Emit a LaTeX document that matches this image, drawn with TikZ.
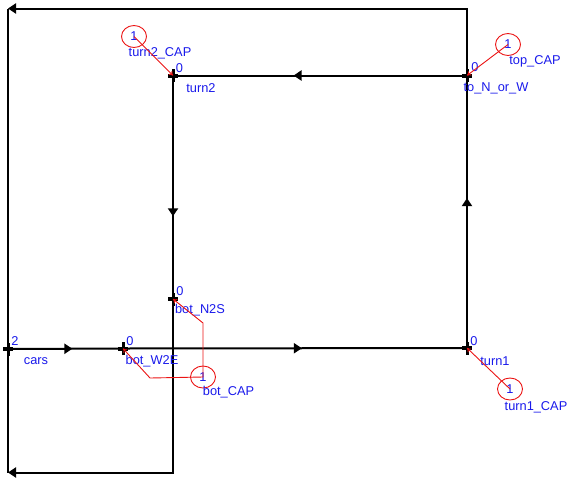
\documentclass[tikz,border=0pt]{standalone}
\usepackage{fontspec}
\setmainfont{Liberation Sans}
\usepackage{tikz}
\usetikzlibrary{shapes.geometric, arrows.meta, positioning, calc, decorations.markings}
\definecolor{netblue}{RGB}{25, 25, 235}
\definecolor{capred}{RGB}{235, 20, 20}

\begin{document}
\begin{tikzpicture}[
  x=1pt, y=-1pt, font=\fontsize{12.8}{14}\selectfont,
  arc/.style={line width=2pt, black},
  midarrow/.style={postaction={decorate}, decoration={markings, mark=at position #1 with {\arrow{Triangle[length=8pt, width=10pt]}}}},
  tr/.style={inner sep=0pt, minimum size=0pt, outer sep=0pt},
  tick/.style={line width=3pt, black},
  lbl/.style={inner sep=0pt, text=netblue},
  capnode/.style={ellipse, draw=capred, line width=0.9pt, minimum width=25pt, minimum height=22pt, inner sep=0pt, text=netblue},
  caparc/.style={capred, line width=0.9pt, -{To[length=4pt, width=5pt]}},
  >={Triangle[length=8pt, width=10pt]}
]
\useasboundingbox (0,0) rectangle (569,480);
% places and transitions
\node[tr] (cars) at (8, 349) {};
\node[tr] (bot_W2E) at (123, 348.5) {};
\node[tr] (turn1) at (467, 348) {};
\node[tr] (to_N_or_W) at (467, 75.5) {};
\node[tr] (turn2) at (173, 75.5) {};
\node[tr] (bot_N2S) at (173, 299) {};
\coordinate (nwcorner) at (8, 8.5);
\coordinate (swcorner) at (8, 472.5);
% arcs
\draw[arc, midarrow=0.56] (cars) -- (bot_W2E);
\draw[arc, midarrow=0.52] (bot_W2E) -- (turn1);
\draw[arc, midarrow=0.55] (turn1) -- (to_N_or_W);
\draw[arc, midarrow=0.59] (to_N_or_W) -- (turn2);
\draw[arc, midarrow=0.63] (turn2) -- (bot_N2S);
\draw[arc, ->] (to_N_or_W) |- (nwcorner);
\draw[arc] (nwcorner) -- (cars);
\draw[arc, ->] (bot_N2S) |- (swcorner);
\draw[arc] (swcorner) -- (cars);
\foreach \n in {cars, bot_W2E, turn1, to_N_or_W, turn2, bot_N2S} {
  \draw[tick, line width=4pt] ([xshift=-5pt]\n.center) -- ([xshift=5pt]\n.center);
  \draw[tick] ([yshift=-6.5pt]\n.center) -- ([yshift=6.5pt]\n.center);
}
% markings and names
\node[lbl] (cars-m) at (15, 341.5) {2};
\node[lbl] (cars-l) at (36, 361) {cars};
\node[lbl] (bot_W2E-m) at (130, 341.5) {0};
\node[lbl] (bot_W2E-l) at (152, 361) {bot\_W2E};
\node[lbl] (bot_N2S-m) at (180, 291.5) {0};
\node[lbl] (bot_N2S-l) at (200, 310.5) {bot\_N2S};
\node[lbl] (turn1-m) at (474, 341) {0};
\node[lbl] (turn1-l) at (495, 361) {turn1};
\node[lbl] (to_N_or_W-m) at (475, 67.5) {0};
\node[lbl] (to_N_or_W-l) at (496, 88) {to\_N\_or\_W};
\node[lbl] (turn2-m) at (179.5, 68.5) {0};
\node[lbl] (turn2-l) at (201, 88) {turn2};
% capacities
\node[capnode] (turn2_CAP) at (134, 36.5) {1};
\node[lbl] (turn2_CAP-l) at (160, 53.5) {turn2\_CAP};
\node[capnode] (top_CAP) at (508, 44.5) {1};
\node[lbl] (top_CAP-l) at (535, 61) {top\_CAP};
\node[capnode] (turn1_CAP) at (510, 389) {1};
\node[lbl] (turn1_CAP-l) at (536, 407) {turn1\_CAP};
\node[capnode] (bot_CAP) at (203, 377) {1};
\node[lbl] (bot_CAP-l) at (228.5, 392) {bot\_CAP};
\coordinate (capbendA) at (203, 323);
\coordinate (capbendB) at (150, 378);
\draw[caparc] (turn2_CAP.center) -- (turn2);
\draw[caparc] (top_CAP.center) -- (to_N_or_W);
\draw[caparc] (turn1_CAP.center) -- (turn1);
\draw[caparc] (bot_CAP.center) -- (capbendA) -- (bot_N2S);
\draw[caparc] (bot_CAP.center) -- (capbendB) -- (bot_W2E);
\end{tikzpicture}
\end{document}
